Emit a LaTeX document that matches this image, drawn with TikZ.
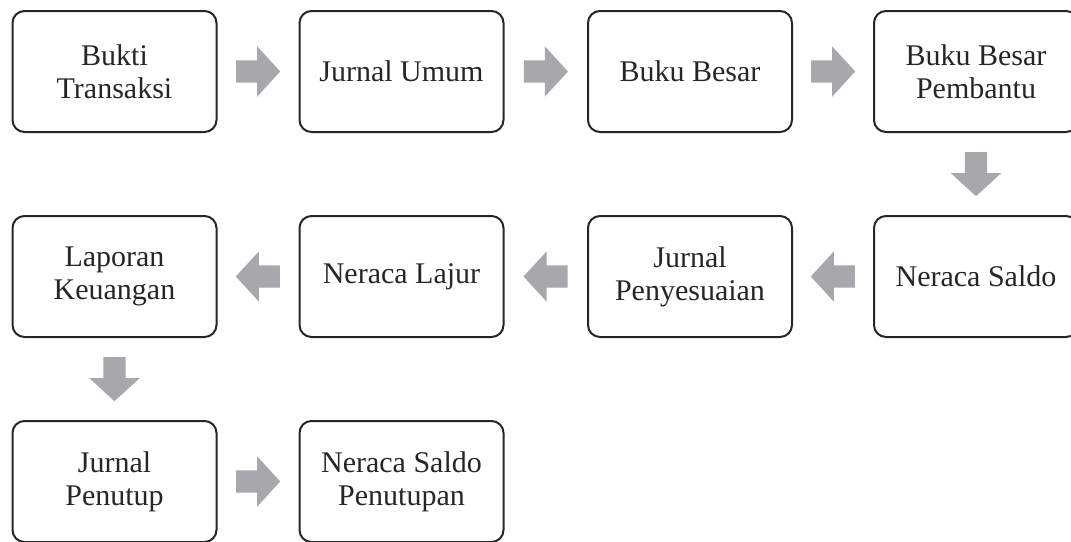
\documentclass[tikz,border=0pt]{standalone}
\usepackage{fontspec}
\setmainfont{Liberation Serif}
\usetikzlibrary{shapes.arrows,calc}

\begin{document}
\begin{tikzpicture}[x=1pt,y=-1pt]
\definecolor{my_gray}{RGB}{166,168,171}
\definecolor{my_gray_dark}{RGB}{38,38,38}

\tikzset{
    box/.style={draw=my_gray_dark, line width=2pt, rounded corners=12pt,
        minimum width=204pt, minimum height=121pt, align=center,
        text=my_gray_dark, font=\fontsize{30}{33}\selectfont},
    blockarrow/.style={single arrow, fill=my_gray, draw=none, inner sep=11pt,
        single arrow head extend=14pt, single arrow tip angle=95,
        minimum height=44pt, anchor=tail}
}

\useasboundingbox (0,0) rectangle (1071,541);

\foreach \x/\y/\A [count=\i from 1] in {
    114.5/71.5/{Bukti\\Transaksi},
    401.5/71.5/{Jurnal Umum},
    690/71.5/{Buku Besar},
    976/71.5/{Buku Besar\\Pembantu},
    976/276.5/{Neraca Saldo},
    690/276.5/{Jurnal\\Penyesuaian},
    401.5/276.5/{Neraca Lajur},
    114.5/276.5/{Laporan\\Keuangan},
    114.5/481.5/{Jurnal\\Penutup},
    401.5/481.5/{Neraca Saldo\\Penutupan}} {
    \node[box] (b\i) at (\x,\y) {\A};
}

% block arrows between the boxes
\foreach \a/\b/\r in {1/2/0,2/3/0,3/4/0,4/5/270,5/6/180,6/7/180,7/8/180,8/9/270,9/10/0} {
    \coordinate (m\a) at ($(b\a)!0.5!(b\b)$);
    \node[blockarrow, shape border rotate=\r] (arr\a) at ($(m\a)!22pt!(b\a)$) {};
}
\end{tikzpicture}
\end{document}
